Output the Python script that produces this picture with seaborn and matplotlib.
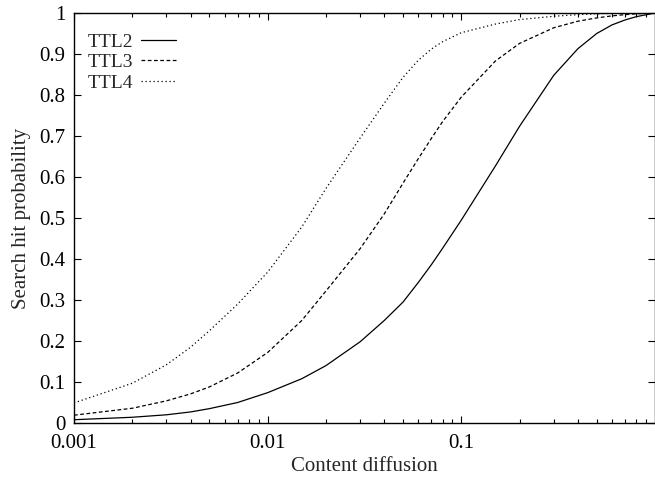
import numpy as np
import pandas as pd
import matplotlib
matplotlib.use("Agg")
import matplotlib.pyplot as plt
import matplotlib.ticker as mticker
import seaborn as sns

# Content diffusion levels (fraction of nodes holding a copy)
diffusion = [0.001, 0.002, 0.003, 0.004, 0.005, 0.007, 0.01, 0.015, 0.02, 0.03,
             0.04, 0.05, 0.06, 0.07, 0.08, 0.1, 0.15, 0.2, 0.3, 0.4, 0.5,
             0.6, 0.7, 0.8, 1.0]

# Search hit probability for each TTL
ttl2 = [0.008, 0.014, 0.020, 0.027, 0.035, 0.050, 0.074, 0.108, 0.140, 0.198,
        0.250, 0.295, 0.343, 0.386, 0.426, 0.495, 0.627, 0.724, 0.848, 0.913,
        0.950, 0.971, 0.983, 0.991, 1.000]
ttl3 = [0.019, 0.036, 0.054, 0.071, 0.088, 0.122, 0.172, 0.250, 0.322, 0.425,
        0.510, 0.585, 0.645, 0.694, 0.735, 0.795, 0.883, 0.926, 0.964, 0.980,
        0.988, 0.993, 0.996, 0.998, 1.000]
ttl4 = [0.049, 0.097, 0.142, 0.185, 0.225, 0.290, 0.368, 0.478, 0.572, 0.695,
        0.780, 0.843, 0.885, 0.912, 0.930, 0.952, 0.973, 0.984, 0.992, 0.996,
        0.998, 0.999, 0.999, 1.000, 1.000]

series_names = ["TTL2", "TTL3", "TTL4"]
y_ticks = [0, 0.1, 0.2, 0.3, 0.4, 0.5, 0.6, 0.7, 0.8, 0.9, 1]
y_tick_labels = ["0", "0.1", "0.2", "0.3", "0.4", "0.5", "0.6", "0.7", "0.8", "0.9", "1"]
x_ticks = [0.001, 0.01, 0.1]
x_tick_labels = ["0.001", "0.01", "0.1"]

df = pd.concat([
    pd.DataFrame({"diffusion": diffusion, "prob": vals, "ttl": name})
    for name, vals in zip(series_names, [ttl2, ttl3, ttl4])
], ignore_index=True)

sns.set_style("ticks")
plt.rcParams["font.family"] = ["Liberation Serif", "DejaVu Serif"]
plt.rcParams["axes.linewidth"] = 1.0

fig = plt.figure(figsize=(6.55, 4.8), dpi=100)
ax = fig.add_axes([74 / 655, 57 / 480, (655 - 74) / 655, (423 - 13) / 480])

dash_styles = {"TTL2": "", "TTL3": (3, 2), "TTL4": (1, 2.2)}
sns.lineplot(data=df, x="diffusion", y="prob", hue="ttl", style="ttl",
             palette=["black"] * 3, dashes=dash_styles, linewidth=0.9,
             ax=ax, legend=False)

ax.set_xscale("log")
ax.set_xlim(0.001, 1.0)
ax.set_ylim(0, 1)
ax.set_xticks(x_ticks)
ax.set_xticklabels(x_tick_labels)
ax.xaxis.set_minor_locator(mticker.LogLocator(base=10, subs=np.arange(2, 10)))
ax.xaxis.set_minor_formatter(mticker.NullFormatter())
ax.set_yticks(y_ticks)
ax.set_yticklabels(y_tick_labels)

ax.tick_params(which="both", direction="in", top=True, right=True,
               labelsize=15, colors="black")
ax.tick_params(which="major", length=5, width=0.8)
ax.tick_params(which="minor", length=3, width=0.8)
ax.tick_params(axis="y", which="major", pad=6)
ax.tick_params(axis="x", which="major", pad=8)
for s in ax.spines.values():
    s.set_visible(True)
    s.set_color("black")

ax.set_xlabel("Content diffusion", fontsize=15, labelpad=3)
ax.set_ylabel("Search hit probability", fontsize=15, labelpad=6)

handles = ax.get_lines()[:3]
leg = ax.legend(handles, series_names, loc="upper left", frameon=False,
                markerfirst=False, fontsize=14, handlelength=1.8,
                handletextpad=0.4, labelspacing=0.15,
                bbox_to_anchor=(0.0, 0.985), borderaxespad=0.3, borderpad=0.42)

fig.savefig("out.png", dpi=100)
